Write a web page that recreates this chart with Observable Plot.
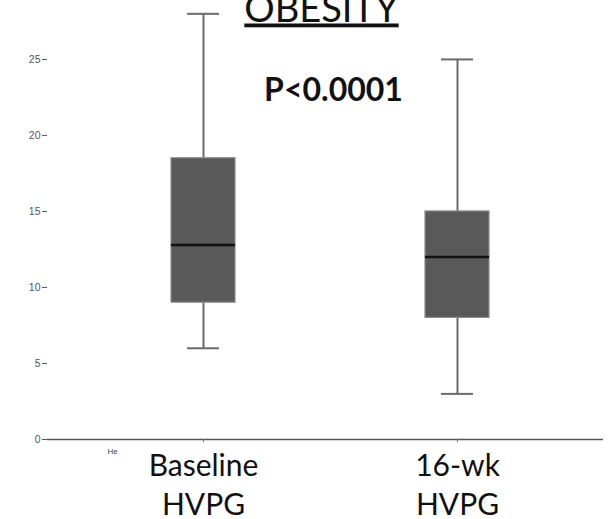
<!DOCTYPE html>
<html>
<head>
<meta charset="utf-8">
<script src="https://cdn.jsdelivr.net/npm/d3@7"></script>
<script src="https://cdn.jsdelivr.net/npm/@observablehq/plot@0.6"></script>
<style>
  html, body { margin: 0; padding: 0; background: #fff; }
</style>
</head>
<body>
<div id="chart"></div>
<script>
const categories = ["Baseline", "16-wk"];
const categoryLabels = ["Baseline\nHVPG", "16-wk\nHVPG"];
const whiskerLow = [6.0, 3.0];
const q1 = [9.0, 8.0];
const median = [12.8, 12.0];
const q3 = [18.5, 15.0];
const whiskerHigh = [28.0, 25.0];
const yTicks = [0, 5, 10, 15, 20, 25];
const yMax = 28.35;
const titleText = "OBESITY";
const pText = "P<0.0001";
const cornerText = "He";

const rows = categories.map((c, i) => ({
  cat: c, label: categoryLabels[i], lo: whiskerLow[i], q1: q1[i], med: median[i], q3: q3[i], hi: whiskerHigh[i]
}));

const chart = Plot.plot({
  width: 610,
  height: 519,
  marginLeft: 47,
  marginRight: 7,
  marginTop: 8,
  marginBottom: 80,
  style: { fontFamily: "Lato, sans-serif", background: "#fff" },
  x: { domain: categories, paddingInner: 0.748, paddingOuter: 0.468, align: 0.52, axis: null, label: null },
  y: { domain: [0, yMax], axis: null, label: null },
  marks: [
    // whiskers
    Plot.ruleX(rows, { x: "cat", y1: "lo", y2: "q1", stroke: "#6a6a6a", strokeWidth: 2 }),
    Plot.ruleX(rows, { x: "cat", y1: "q3", y2: "hi", stroke: "#6a6a6a", strokeWidth: 2 }),
    Plot.tickY(rows, { x: "cat", y: "lo", stroke: "#6a6a6a", strokeWidth: 2, insetLeft: 16, insetRight: 16 }),
    Plot.tickY(rows, { x: "cat", y: "hi", stroke: "#6a6a6a", strokeWidth: 2, insetLeft: 16, insetRight: 16 }),
    // boxes
    Plot.barY(rows, { x: "cat", y1: "q1", y2: "q3", fill: "#595959", stroke: "#8a8a8a", strokeWidth: 1.2 }),
    Plot.tickY(rows, { x: "cat", y: "med", stroke: "#111", strokeWidth: 2.5 }),
    // axes
    Plot.axisY({ ticks: yTicks, tickSize: 5, tickPadding: 2, fontSize: 10.5, color: "#555", stroke: "#555", fontFamily: "Liberation Sans, sans-serif", label: null }),
    Plot.ruleX([0], { frameAnchor: "left", y1: 0, y2: yMax, stroke: "#555", strokeWidth: 1.6 }),
    Plot.ruleY([0], { stroke: "#555", strokeWidth: 1.6 }),
    Plot.axisX({ tickSize: 3, stroke: "#777", tickFormat: null, label: null }),
    Plot.text(rows, { x: "cat", frameAnchor: "bottom", text: "label", lineAnchor: "top", dy: 9, fontSize: 30, lineHeight: 1.3, fill: "#111" }),
    // annotations
    Plot.text([titleText], { frameAnchor: "top", dx: -4, dy: 13, lineAnchor: "bottom", fontSize: 38, fill: "#111", text: (d) => d }),
    Plot.text([pText], { frameAnchor: "top", dx: 8, dy: 92, lineAnchor: "bottom", fontSize: 32, fontWeight: "bold", fill: "#111", text: (d) => d }),
    Plot.text([cornerText], { frameAnchor: "bottom-left", dx: 60, dy: 14, fontSize: 8, fill: "#444", fontFamily: "Liberation Sans, sans-serif", text: (d) => d })
  ]
});

d3.select(chart).selectAll("text").filter(function () { return this.textContent === titleText; })
  .style("text-decoration", "underline").style("text-decoration-thickness", "2px");

document.getElementById("chart").appendChild(chart);
</script>
</body>
</html>
